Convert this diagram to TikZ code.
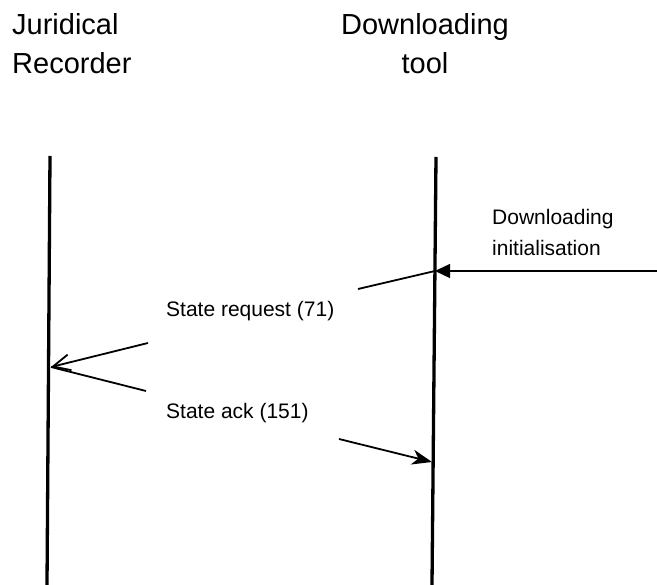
\documentclass[tikz,border=0pt]{standalone}
\usepackage{fontspec}
\setmainfont{Liberation Sans}
\usetikzlibrary{arrows.meta}

\begin{document}
\begin{tikzpicture}[
  x=1pt, y=-1pt,
  line cap=butt,
  lifeline/.style={line width=3.3pt},
  msg/.style={line width=1.8pt},
  head/.style={font=\fontsize{29}{39}\selectfont, inner sep=0pt},
  lbl/.style={font=\fontsize{21}{31}\selectfont, inner sep=0pt}
]
  \useasboundingbox (0,0) rectangle (657,585);

  % headers
  \node[head, anchor=north west, align=left] (jr) at (12,13) {Juridical\\Recorder};
  \node[head, anchor=north, align=center] (dt) at (425,13) {Downloading\\tool};

  % lifelines
  \coordinate (jr top) at (50,156);
  \coordinate (jr bot) at (47,585);
  \coordinate (dt top) at (436,157);
  \coordinate (dt bot) at (432,585);
  \draw[lifeline] (jr top) -- (jr bot);
  \draw[lifeline] (dt top) -- (dt bot);

  % points on the lifelines
  \coordinate (init end) at (435,271);
  \coordinate (req hit) at (51,367);
  \coordinate (ack hit) at (432,462);

  % loose ends
  \coordinate (init start) at (657,271);
  \coordinate (req a) at (358,289);
  \coordinate (req b) at (148,343);
  \coordinate (ack a) at (146,391);
  \coordinate (ack b) at (339,439);

  % labels
  \node[lbl, anchor=north west, align=left] (init) at (492,209) {Downloading\\initialisation};
  \node[lbl, anchor=base west] (req) at (166,317) {State request (71)};
  \node[lbl, anchor=base west] (ack) at (166,419) {State ack (151)};

  % 1. downloading initialisation
  \draw[line width=1.3pt, -{Triangle[length=15pt,width=14pt]}] (init start) -- (init end);

  % 2. state request
  \draw[msg] (init end) -- (req a);
  \draw[msg, -{Straight Barb[length=17pt,width=16pt,line width=1.8pt]}] (req b) -- (req hit);

  % 3. state ack
  \draw[msg] (req hit) -- (ack a);
  \draw[msg, -{Stealth[length=20pt,width=15pt,inset=6pt]}] (ack b) -- (ack hit);

\end{tikzpicture}
\end{document}
